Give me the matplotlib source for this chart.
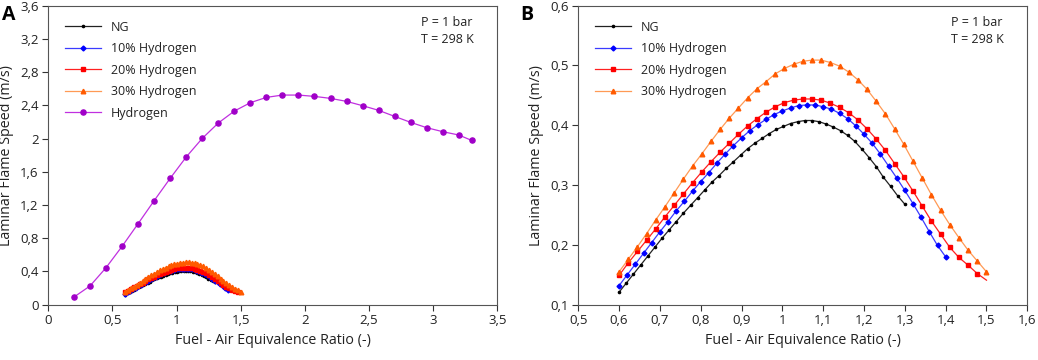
import numpy as np
import matplotlib
matplotlib.use('Agg')
import matplotlib.pyplot as plt
from matplotlib.ticker import FixedLocator, FixedFormatter

plt.rcParams['font.family'] = ['Open Sans', 'DejaVu Sans']

# ---------------- data ----------------
phi_ng = np.round(0.6 + 0.0175 * np.arange(41), 4)
sl_ng = [0.121, 0.136, 0.151, 0.166, 0.181, 0.196, 0.211, 0.225, 0.239, 0.253,
         0.266, 0.279, 0.292, 0.305, 0.316, 0.328, 0.339, 0.350, 0.361, 0.370,
         0.378, 0.386, 0.393, 0.398, 0.403, 0.406, 0.408, 0.408, 0.406, 0.402,
         0.397, 0.391, 0.383, 0.373, 0.360, 0.346, 0.331, 0.313, 0.298, 0.282,
         0.268]

phi_h10 = np.round(0.6 + 0.02 * np.arange(41), 4)
sl_h10 = [0.132, 0.150, 0.168, 0.186, 0.204, 0.222, 0.239, 0.257, 0.273, 0.290,
          0.306, 0.321, 0.337, 0.352, 0.366, 0.379, 0.391, 0.401, 0.410, 0.418,
          0.424, 0.429, 0.433, 0.434, 0.434, 0.431, 0.427, 0.420, 0.411, 0.399,
          0.385, 0.370, 0.352, 0.332, 0.312, 0.291, 0.269, 0.246, 0.222, 0.199,
          0.180]

phi_h20 = list(np.round(0.6 + 0.0225 * np.arange(40), 4)) + [1.5]
sl_h20 = [0.149, 0.170, 0.189, 0.208, 0.227, 0.247, 0.266, 0.285, 0.304, 0.322,
          0.339, 0.355, 0.370, 0.385, 0.399, 0.411, 0.422, 0.431, 0.438, 0.442,
          0.444, 0.444, 0.442, 0.437, 0.430, 0.421, 0.409, 0.394, 0.377, 0.358,
          0.336, 0.314, 0.290, 0.265, 0.240, 0.218, 0.196, 0.179, 0.166, 0.152,
          0.141]

phi_h30 = np.round(0.6 + 0.0225 * np.arange(41), 4)
sl_h30 = [0.155, 0.176, 0.197, 0.219, 0.242, 0.264, 0.287, 0.310, 0.332, 0.352,
          0.373, 0.393, 0.412, 0.429, 0.446, 0.461, 0.473, 0.486, 0.495, 0.502,
          0.507, 0.509, 0.509, 0.505, 0.499, 0.489, 0.476, 0.460, 0.440, 0.419,
          0.394, 0.368, 0.340, 0.312, 0.284, 0.258, 0.234, 0.212, 0.191, 0.173,
          0.155]

phi_h2 = [0.2, 0.325, 0.45, 0.575, 0.7, 0.825, 0.95, 1.075, 1.2, 1.325, 1.45,
          1.575, 1.7, 1.825, 1.95, 2.075, 2.2, 2.325, 2.45, 2.575, 2.7, 2.825,
          2.95, 3.075, 3.2, 3.3]
sl_h2 = [0.092, 0.225, 0.445, 0.702, 0.975, 1.252, 1.521, 1.778, 2.002, 2.187,
         2.331, 2.432, 2.496, 2.524, 2.524, 2.508, 2.484, 2.448, 2.396, 2.340,
         2.267, 2.195, 2.131, 2.083, 2.043, 1.978]

labels = ['NG', '10% Hydrogen', '20% Hydrogen', '30% Hydrogen', 'Hydrogen']

xticks_a = [0, 0.5, 1, 1.5, 2, 2.5, 3, 3.5]
xticklabels_a = ['0', '0,5', '1', '1,5', '2', '2,5', '3', '3,5']
yticks_a = [0, 0.4, 0.8, 1.2, 1.6, 2.0, 2.4, 2.8, 3.2, 3.6]
yticklabels_a = ['0', '0,4', '0,8', '1,2', '1,6', '2', '2,4', '2,8', '3,2', '3,6']

xticks_b = [0.5, 0.6, 0.7, 0.8, 0.9, 1.0, 1.1, 1.2, 1.3, 1.4, 1.5, 1.6]
xticklabels_b = ['0,5', '0,6', '0,7', '0,8', '0,9', '1', '1,1', '1,2', '1,3', '1,4', '1,5', '1,6']
yticks_b = [0.1, 0.2, 0.3, 0.4, 0.5, 0.6]
yticklabels_b = ['0,1', '0,2', '0,3', '0,4', '0,5', '0,6']

# ---------------- styles ----------------
styles = [
    dict(color='#222222', marker='o', markersize=1.6, mfc='#000000', mec='#000000', lw=0.9),
    dict(color='#3b3bff', marker='D', markersize=2.5, mfc='#0000ff', mec='#0000ff', lw=0.9),
    dict(color='#ff2020', marker='s', markersize=2.3, mfc='#ff0000', mec='#ff0000', lw=0.9),
    dict(color='#ff9a55', marker='^', markersize=3.3, mfc='#ff5a00', mec='#ff5a00', lw=0.9),
    dict(color='#c030e0', marker='o', markersize=3.7, mfc='#a000c8', mec='#a000c8', lw=0.9),
]

fig = plt.figure(figsize=(10.38, 3.6), dpi=100)
axA = fig.add_axes([0.0465, 0.1536, 0.4326, 0.8306])
axB = fig.add_axes([0.5571, 0.1536, 0.4326, 0.8306])

series = [(phi_ng, sl_ng), (phi_h10, sl_h10), (phi_h20, sl_h20), (phi_h30, sl_h30)]

for i, (x, y) in enumerate(series):
    me = list(range(len(x) - 1)) if i == 2 else None
    axA.plot(x, y, label=labels[i], markevery=me, **styles[i])
    axB.plot(x, y, label=labels[i], markevery=me, **styles[i])
axA.plot(phi_h2, sl_h2, label=labels[4], **styles[4])

def style_axes(ax, xt, xtl, yt, ytl, xlim, ylim):
    ax.set_xlim(*xlim)
    ax.set_ylim(*ylim)
    ax.xaxis.set_major_locator(FixedLocator(xt))
    ax.xaxis.set_major_formatter(FixedFormatter(xtl))
    ax.yaxis.set_major_locator(FixedLocator(yt))
    ax.yaxis.set_major_formatter(FixedFormatter(ytl))
    ax.tick_params(direction='out', length=4, width=0.8, labelsize=9.5,
                   colors='#333333', labelcolor='#222222', pad=3)
    for s in ax.spines.values():
        s.set_color('#555555')
        s.set_linewidth(0.8)
    ax.set_xlabel('Fuel - Air Equivalence Ratio (-)', fontsize=10.3, color='#222222', labelpad=4)
    ax.set_ylabel('Laminar Flame Speed (m/s)', fontsize=10.3, color='#222222', labelpad=4)
    leg = ax.legend(loc='upper left', bbox_to_anchor=(0.02, 0.975), frameon=False,
                    fontsize=9, handlelength=2.9, handletextpad=0.8,
                    labelspacing=0.68, borderaxespad=0.2)
    for t in leg.get_texts():
        t.set_color('#222222')
    ax.text(0.83, 0.915, 'P = 1 bar\nT = 298 K', transform=ax.transAxes,
            fontsize=9, va='center', ha='left', linespacing=1.45, color='#222222')

style_axes(axA, xticks_a, xticklabels_a, yticks_a, yticklabels_a, (0, 3.5), (0, 3.6))
style_axes(axB, xticks_b, xticklabels_b, yticks_b, yticklabels_b, (0.5, 1.6), (0.1, 0.6))

fig.text(0.002, 0.985, 'A', fontsize=14, fontweight='bold', va='top', ha='left')
fig.text(0.5015, 0.985, 'B', fontsize=14, fontweight='bold', va='top', ha='left')

fig.savefig('out.png', dpi=100)
